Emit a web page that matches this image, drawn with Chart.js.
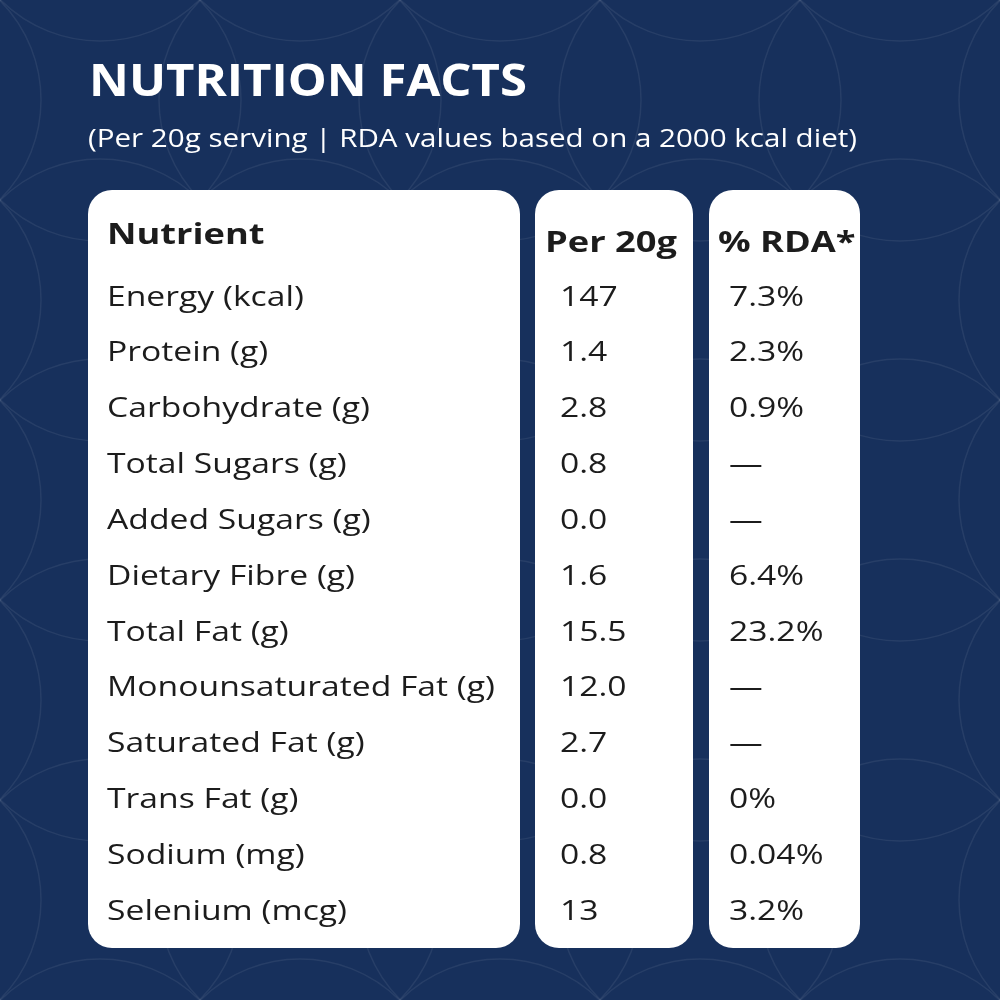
<!DOCTYPE html>
<html>
<head>
<meta charset="utf-8">
<script src="https://cdn.jsdelivr.net/npm/chart.js@4"></script>
<style>
  html, body { margin: 0; padding: 0; background: #17305c; }
  #wrap { width: 1000px; height: 1000px; }
</style>
</head>
<body>
<div id="wrap"><canvas id="facts" width="1000" height="1000"></canvas></div>
<script>
const nutrients = ['Energy (kcal)', 'Protein (g)', 'Carbohydrate (g)', 'Total Sugars (g)',
  'Added Sugars (g)', 'Dietary Fibre (g)', 'Total Fat (g)', 'Monounsaturated Fat (g)',
  'Saturated Fat (g)', 'Trans Fat (g)', 'Sodium (mg)', 'Selenium (mcg)'];
const per20g = ['147', '1.4', '2.8', '0.8', '0.0', '1.6', '15.5', '12.0', '2.7', '0.0', '0.8', '13'];
const rda = ['7.3%', '2.3%', '0.9%', '—', '—', '6.4%', '23.2%', '—', '—', '0%', '0.04%', '3.2%'];
const headers = ['Nutrient', 'Per 20g', '% RDA*'];
const title = 'NUTRITION FACTS';
const subtitle = '(Per 20g serving | RDA values based on a 2000 kcal diet)';

const FONT = '"Open Sans", sans-serif';

function roundRect(ctx, x, y, w, h, r) {
    ctx.beginPath();
    ctx.moveTo(x + r, y);
    ctx.arcTo(x + w, y, x + w, y + h, r);
    ctx.arcTo(x + w, y + h, x, y + h, r);
    ctx.arcTo(x, y + h, x, y, r);
    ctx.arcTo(x, y, x + w, y, r);
    ctx.closePath();
}

// text stretched horizontally by sx (reference font is wider)
function wideText(ctx, text, x, y, sx) {
    ctx.save();
    ctx.translate(x, y);
    ctx.scale(sx, 1);
    ctx.fillText(text, 0, 0);
    ctx.restore();
}

const tablePlugin = {
    id: 'tablePlugin',
    beforeDraw(chart) {
        const ctx = chart.ctx;
        ctx.save();
        ctx.fillStyle = '#17305c';
        ctx.fillRect(0, 0, chart.width, chart.height);
        ctx.strokeStyle = 'rgba(255,255,255,0.07)';
        ctx.lineWidth = 1.5;
        for (let cx = -100; cx <= 1100; cx += 200) {
            for (let cy = -100; cy <= 1100; cy += 200) {
                ctx.beginPath();
                ctx.arc(cx, cy, 141, 0, Math.PI * 2);
                ctx.stroke();
            }
        }
        ctx.fillStyle = '#ffffff';
        ctx.textBaseline = 'alphabetic';
        ctx.font = 'bold 44px ' + FONT;
        wideText(ctx, title, 89, 96, 438 / ctx.measureText(title).width);
        ctx.font = '25px ' + FONT;
        wideText(ctx, subtitle, 88, 147, 769 / ctx.measureText(subtitle).width);

        roundRect(ctx, 88, 190, 432, 758, 24); ctx.fill();
        roundRect(ctx, 535, 190, 158, 758, 24); ctx.fill();
        roundRect(ctx, 709, 190, 151, 758, 24); ctx.fill();
        ctx.restore();
    },
    afterDraw(chart) {
        const ctx = chart.ctx;
        const y = chart.scales.y;
        ctx.save();
        ctx.fillStyle = '#1c1c1c';
        ctx.textBaseline = 'middle';
        ctx.font = 'bold 29px ' + FONT;
        const hx = 132 / ctx.measureText(headers[1]).width;
        wideText(ctx, headers[0], 107, 236, hx);
        wideText(ctx, headers[1], 545, 244, hx);
        wideText(ctx, headers[2], 718, 244, hx);
        ctx.font = '27px ' + FONT;
        const sx = 388 / ctx.measureText(nutrients[7]).width;
        nutrients.forEach((n, i) => {
            const py = y.getPixelForValue(i);
            wideText(ctx, n, 107, py, sx);
            wideText(ctx, per20g[i], 560, py, sx);
            wideText(ctx, rda[i], 729, py, sx);
        });
        ctx.restore();
    }
};

new Chart(document.getElementById('facts'), {
    type: 'bar',
    data: { labels: nutrients, datasets: [{ data: nutrients.map(() => null) }] },
    options: {
        responsive: false,
        animation: false,
        indexAxis: 'y',
        layout: { padding: { top: 270, bottom: 60, left: 0, right: 0 } },
        plugins: { legend: { display: false }, tooltip: { enabled: false } },
        scales: {
            x: { display: false },
            y: { display: false, offset: true }
        }
    },
    plugins: [tablePlugin]
});
</script>
</body>
</html>
